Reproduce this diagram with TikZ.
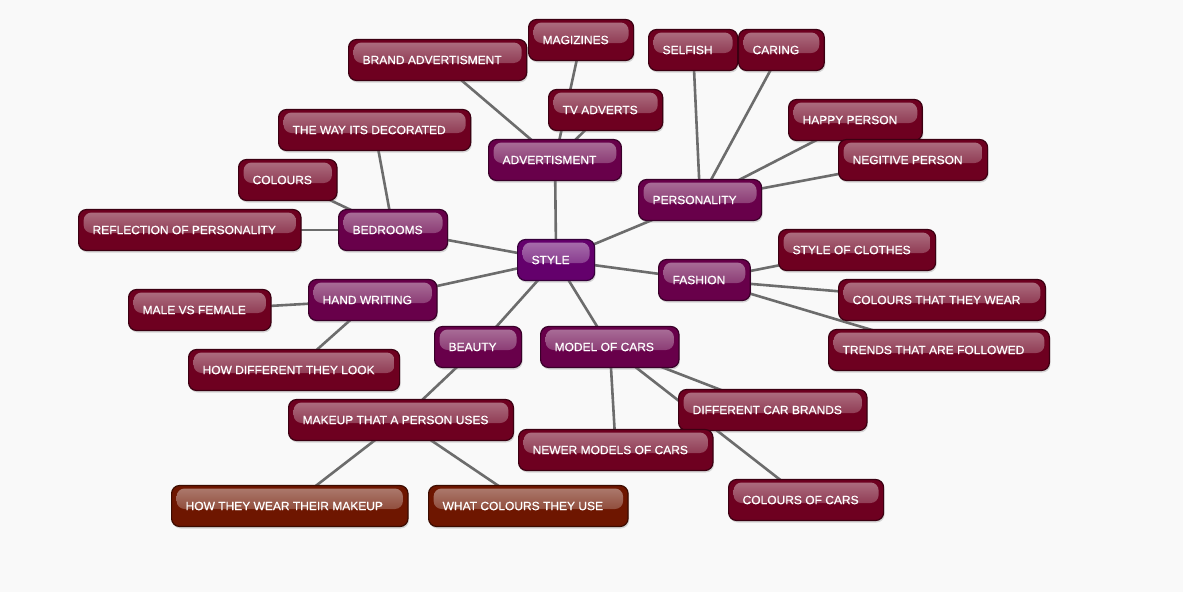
\documentclass[tikz,border=0pt]{standalone}
\usepackage{fontspec}
\setmainfont{Liberation Sans}
\newfontfamily\boxfont[FakeBold=0.5]{Liberation Sans}
\usepackage{xcolor}
\usetikzlibrary{shadows, backgrounds}

\definecolor{hubc}{RGB}{100,0,108}
\definecolor{topicc}{RGB}{104,0,74}
\definecolor{leafc}{RGB}{110,0,32}
\definecolor{tipc}{RGB}{110,22,0}
\definecolor{linkc}{RGB}{108,108,108}
\definecolor{paper}{RGB}{249,249,249}

\begin{document}
\begin{tikzpicture}[x=1pt, y=-1pt, font=\boxfont\fontsize{12}{14}\selectfont,
    glossy/.style={fill=#1, draw=#1!55!black, line width=1.2pt,
      path picture={\shade[rounded corners=8pt, top color=#1!55!white, bottom color=#1!92!white]
        ([xshift=5pt, yshift=-3pt]path picture bounding box.north west) rectangle
        ([xshift=-5pt, yshift=-3pt]path picture bounding box.east);}}]
            \tikzstyle{box} = [rectangle, rounded corners=8pt, anchor=west, minimum height=41pt, inner xsep=14pt, text=white, drop shadow={opacity=0.3, shadow xshift=1pt, shadow yshift=-2pt}, execute at end node={\kern11pt}]
            \tikzstyle{hub} = [box, glossy=hubc]
            \tikzstyle{topic} = [box, glossy=topicc]
            \tikzstyle{leaf} = [box, glossy=leafc]
            \tikzstyle{tip} = [box, glossy=tipc]
            \tikzstyle{link} = [draw=linkc, line width=2.6pt]

            \useasboundingbox (0,0) rectangle (1183,592);

            % centre and first ring
            \node[hub] (style) at (517,260) {STYLE};
            \node[topic] (adv) at (488,160) {ADVERTISMENT};
            \node[topic] (pers) at (638,200) {PERSONALITY};
            \node[topic] (fash) at (658,280) {FASHION};
            \node[topic] (bed) at (338,230) {BEDROOMS};
            \node[topic] (hand) at (308,300) {HAND WRITING};
            \node[topic] (beauty) at (434,347) {BEAUTY};
            \node[topic] (model) at (540,347) {MODEL OF CARS};

            % second ring
            \node[leaf] (mag) at (528,40) {MAGIZINES};
            \node[leaf] (brand) at (348,60) {BRAND ADVERTISMENT};
            \node[leaf] (tv) at (548,110) {TV ADVERTS};
            \node[leaf] (selfish) at (648,50) {SELFISH};
            \node[leaf] (caring) at (738,50) {CARING};
            \node[leaf] (happy) at (788,120) {HAPPY PERSON};
            \node[leaf] (neg) at (838,160) {NEGITIVE PERSON};
            \node[leaf] (clothes) at (778,250) {STYLE OF CLOTHES};
            \node[leaf] (wear) at (838,300) {COLOURS THAT THEY WEAR};
            \node[leaf] (trends) at (828,350) {TRENDS THAT ARE FOLLOWED};
            \node[leaf] (brands) at (678,410) {DIFFERENT CAR BRANDS};
            \node[leaf] (newer) at (518,450) {NEWER MODELS OF CARS};
            \node[leaf] (carcol) at (728,500) {COLOURS OF CARS};
            \node[leaf] (makeup) at (288,420) {MAKEUP THAT A PERSON USES};
            \node[leaf] (look) at (188,370) {HOW DIFFERENT THEY LOOK};
            \node[leaf] (male) at (128,310) {MALE VS FEMALE};
            \node[leaf] (refl) at (78,230) {REFLECTION OF PERSONALITY};
            \node[leaf] (colours) at (238,180) {COLOURS};
            \node[leaf] (decor) at (278,130) {THE WAY ITS DECORATED};

            % third ring
            \node[tip] (howwear) at (171,506) {HOW THEY WEAR THEIR MAKEUP};
            \node[tip] (whatcol) at (428,506) {WHAT COLOURS THEY USE};

            \begin{scope}[on background layer]
                \fill[paper] (0,0) rectangle (1183,592);
                \foreach \a/\b in {style/adv, style/pers, style/fash, style/bed, style/hand, style/beauty, style/model,
                    adv/mag, adv/brand, adv/tv, pers/selfish, pers/caring, pers/happy, pers/neg,
                    fash/clothes, fash/wear, fash/trends, bed/decor, bed/colours, bed/refl,
                    hand/male, hand/look, beauty/makeup, makeup/howwear, makeup/whatcol,
                    model/brands, model/newer, model/carcol}
                    \draw[link] (\a.center) -- (\b.center);
            \end{scope}
        \end{tikzpicture}
\end{document}
